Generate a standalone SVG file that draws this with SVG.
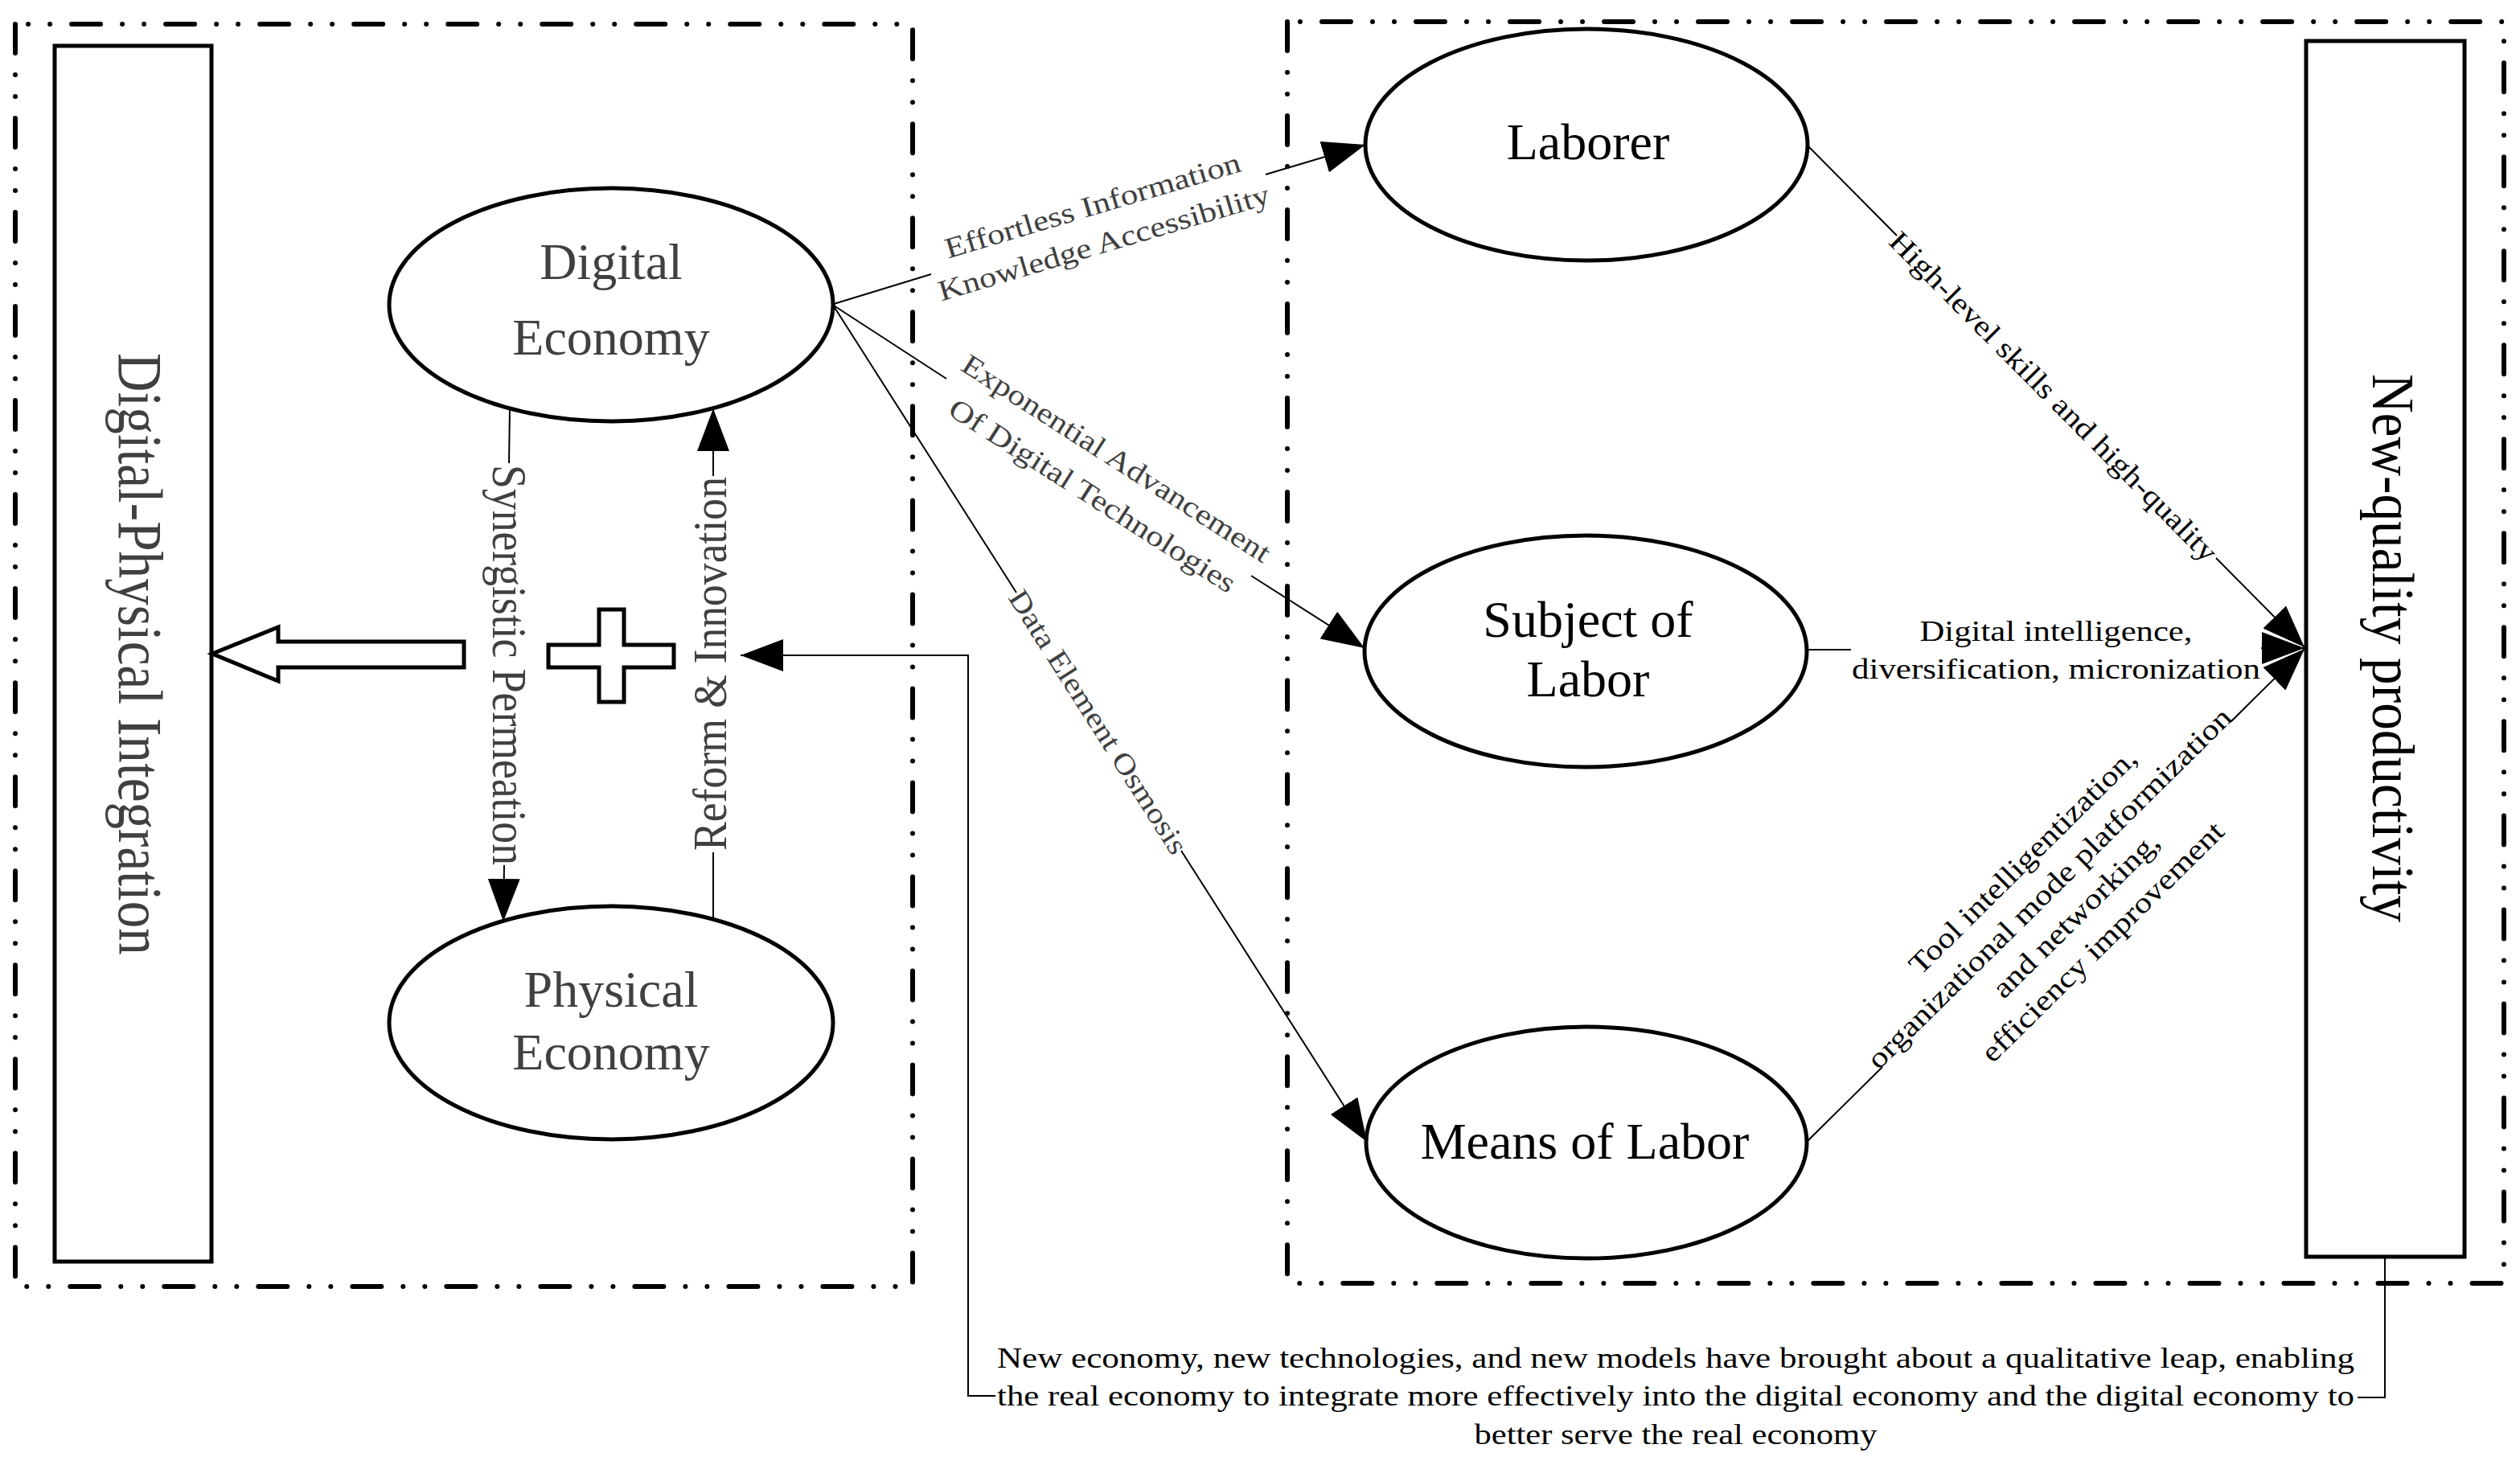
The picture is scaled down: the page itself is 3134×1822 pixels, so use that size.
<svg xmlns="http://www.w3.org/2000/svg" width="3134" height="1822" viewBox="0 0 3134 1822">
<style>
.frame{fill:none;stroke:#000;stroke-width:6;stroke-linecap:round;stroke-dasharray:36 27 0.01 27 0.01 27}
.node{fill:#fff;stroke:#000;stroke-width:5}
.conn{fill:none;stroke:#000;stroke-width:2}
.t{font-family:"Liberation Serif","Times New Roman",serif}
.big{font-size:64px;text-anchor:middle}
.gray{fill:#404040}
.blk{fill:#000}
.lab{font-size:36px;text-anchor:middle}
.vlab{font-size:54px;text-anchor:middle}
</style>
<defs>
<marker id="ah" markerUnits="userSpaceOnUse" markerWidth="53" markerHeight="40" refX="53" refY="20" orient="auto">
<path d="M0,0 L53,20 L0,40 Z" fill="#000"/>
</marker>
</defs>
<rect width="3134" height="1822" fill="#fff"/>
<g id="frames">
<path class="frame" d="M19,30 V1600 H1135 V30 Z"/>
<path class="frame" d="M1601,27 V1596 H3114 V27 Z"/>
</g>
<g id="connectors">
<path class="conn" d="M1037,378 L1158,341"/>
<path class="conn" d="M1574,217 L1698,180" marker-end="url(#ah)"/>
<path class="conn" d="M1037,380 L1177,471"/>
<path class="conn" d="M1556,716 L1697,806" marker-end="url(#ah)"/>
<path class="conn" d="M1037,381 L1264,737"/>
<path class="conn" d="M1469,1058 L1700,1420" marker-end="url(#ah)"/>
<path class="conn" d="M634,508 L633,576"/>
<path class="conn" d="M627,1076 L626,1146" marker-end="url(#ah)"/>
<path class="conn" d="M887,1144 L887,1060"/>
<path class="conn" d="M887,592 L887,508" marker-end="url(#ah)"/>
<path class="conn" d="M2248,181 L2359,293"/>
<path class="conn" d="M2756,694 L2866,805" marker-end="url(#ah)"/>
<path class="conn" d="M2246,808 L2302,808"/>
<path class="conn" d="M2812,806 L2866,806" marker-end="url(#ah)"/>
<path class="conn" d="M2246,1421 L2341,1327"/>
<path class="conn" d="M2774,898 L2866,807" marker-end="url(#ah)"/>
<path class="conn" d="M2966,1563 L2966,1738 L2932,1738"/>
<path class="conn" d="M1238,1736 L1204,1736 L1204,815 L921,815" marker-end="url(#ah)"/>
</g>
<g id="labels" class="t">
<g transform="translate(1366,279.5) rotate(-16.56)" class="lab gray">
<text x="0" y="-13" textLength="382" lengthAdjust="spacingAndGlyphs">Effortless Information</text>
<text x="0" y="35.5" textLength="428" lengthAdjust="spacingAndGlyphs">Knowledge Accessibility</text>
</g>
<g transform="translate(1371.6,596.2) rotate(32.6)" class="lab gray">
<text x="0" y="-19" textLength="448" lengthAdjust="spacingAndGlyphs">Exponential Advancement</text>
<text x="0" y="36" textLength="416" lengthAdjust="spacingAndGlyphs">Of Digital Technologies</text>
</g>
<g transform="translate(1366.6,897.3) rotate(57.5)" class="lab gray">
<text x="0" y="13" textLength="382" lengthAdjust="spacingAndGlyphs">Data Element Osmosis</text>
</g>
<g transform="translate(613,827) rotate(90) scale(1,1.12)" class="vlab gray">
<text x="0" y="0" textLength="498" lengthAdjust="spacingAndGlyphs">Synergistic Permeation</text>
</g>
<g transform="translate(903,825.5) rotate(-90) scale(1,1.08)" class="vlab gray">
<text x="0" y="0" textLength="465" lengthAdjust="spacingAndGlyphs">Reform &amp; Innovation</text>
</g>
<g transform="translate(2556,491) rotate(45.2)" class="lab blk">
<text x="0" y="15" textLength="562" lengthAdjust="spacingAndGlyphs">High-level skills and high-quality</text>
</g>
<g class="lab blk">
<text x="2557" y="797" textLength="339" lengthAdjust="spacingAndGlyphs">Digital intelligence,</text>
<text x="2557" y="844" textLength="508" lengthAdjust="spacingAndGlyphs">diversification, micronization</text>
</g>
<g transform="translate(2557,1113) rotate(-44.7)" class="lab blk">
<text x="0" y="-47" textLength="382" lengthAdjust="spacingAndGlyphs">Tool intelligentization,</text>
<text x="0" y="0" textLength="621" lengthAdjust="spacingAndGlyphs">organizational mode platformization</text>
<text x="0" y="47" textLength="276" lengthAdjust="spacingAndGlyphs">and networking,</text>
<text x="0" y="94" textLength="408" lengthAdjust="spacingAndGlyphs">efficiency improvement</text>
</g>
<g class="lab blk">
<text x="2084" y="1701" textLength="1688" lengthAdjust="spacingAndGlyphs">New economy, new technologies, and new models have brought about a qualitative leap, enabling</text>
<text x="2084" y="1748" textLength="1688" lengthAdjust="spacingAndGlyphs">the real economy to integrate more effectively into the digital economy and the digital economy to</text>
<text x="2084" y="1796" textLength="501" lengthAdjust="spacingAndGlyphs">better serve the real economy</text>
</g>
</g>
<g id="integration">
<rect class="node" x="68" y="57" width="195" height="1512"/>
<g transform="translate(148,813.5) rotate(90) scale(1,1.16)" class="t gray" style="font-size:67px;text-anchor:middle">
<text x="0" y="0" textLength="749" lengthAdjust="spacingAndGlyphs">Digital-Physical Integration</text>
</g>
</g>
<g id="block-arrow">
<polygon class="node" points="264,813 346,780 346,798 577,798 577,830 346,830 346,847"/>
</g>
<g id="plus">
<polygon class="node" points="745,758 776,758 776,802 838,802 838,830 776,830 776,873 745,873 745,830 682,830 682,802 745,802"/>
</g>
<g id="digital-economy">
<ellipse class="node" cx="760" cy="379" rx="276" ry="145"/>
<text class="t big gray" x="760" y="347">Digital</text>
<text class="t big gray" x="760" y="441">Economy</text>
</g>
<g id="physical-economy">
<ellipse class="node" cx="760" cy="1272" rx="276" ry="145"/>
<text class="t big gray" x="760" y="1252">Physical</text>
<text class="t big gray" x="760" y="1330">Economy</text>
</g>
<g id="laborer">
<ellipse class="node" cx="1973" cy="180" rx="275" ry="144"/>
<text class="t big blk" x="1975" y="198">Laborer</text>
</g>
<g id="subject-of-labor">
<ellipse class="node" cx="1972" cy="810" rx="275" ry="144"/>
<text class="t big blk" x="1975" y="792">Subject of</text>
<text class="t big blk" x="1975" y="866">Labor</text>
</g>
<g id="means-of-labor">
<ellipse class="node" cx="1973" cy="1421" rx="274" ry="144"/>
<text class="t big blk" x="1971" y="1441">Means of Labor</text>
</g>
<g id="new-quality-productivity">
<rect class="node" x="2868" y="51" width="197" height="1512"/>
<g transform="translate(2951,806) rotate(90) scale(1,1.1)" class="t blk" style="font-size:67px;text-anchor:middle">
<text x="0" y="0" textLength="682" lengthAdjust="spacingAndGlyphs">New-quality productivity</text>
</g>
</g>
</svg>
